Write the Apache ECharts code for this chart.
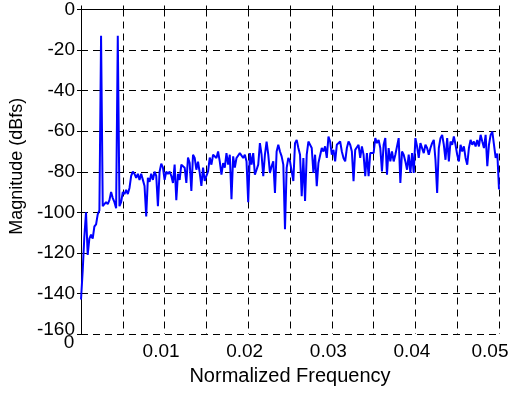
<!DOCTYPE html>
<html>
<head>
<meta charset="utf-8">
<script src="https://cdn.jsdelivr.net/npm/echarts@6.0.0/dist/echarts.min.js"></script>
<style>
  html, body { margin: 0; padding: 0; background: #ffffff; }
  #chart { width: 518px; height: 394px; }
</style>
</head>
<body>
<div id="chart"></div>
<script>
// spectrum bins, normalized frequency step
const binWidth = 0.0002;

// magnitude in dBfs, one value per bin (0 .. 0.05)
const magnitude = [
  -143, -129, -112, -100, -121, -113, -111, -113, -107, -106,
  -101, -99, -13, -97, -96, -95, -96, -94, -90, -93,
  -95, -98, -13, -97, -95, -90, -91, -89, -91, -88,
  -82, -80, -81, -83, -81, -84, -81, -84, -87, -102,
  -83, -85, -81, -84, -80, -82, -97, -80, -76, -78,
  -84, -80, -81, -80, -82, -85.5, -76.5, -94, -81, -84,
  -76.5, -75.7, -78, -85.5, -73, -75.7, -89.5, -71.6, -73.2, -79,
  -75, -80.5, -87, -78, -84.5, -82, -79.8, -73, -76.5, -71.6,
  -72.4, -73.2, -70, -75, -81.4, -75.7, -78, -70.8, -76.5, -71.6,
  -93.6, -72.4, -78, -73.2, -74, -70.8, -71.6, -73.2, -71.6, -75,
  -95, -70.8, -76.5, -70.8, -81.4, -79, -76.5, -65.9, -71.6, -82.2,
  -71.6, -65.1, -71.6, -80.6, -77.3, -74.9, -90.4, -70, -66.7, -70,
  -72.4, -76.5, -108.3, -78.1, -73.2, -74.9, -75.7, -84.6, -65.9, -64.3,
  -68.3, -71.6, -92, -73.2, -94.4, -71.6, -65.1, -65.1, -68.3, -80.6,
  -71.6, -87.1, -75.7, -76.5, -68.3, -70, -67.5, -73.2, -62.6, -65.1,
  -71.6, -69.2, -74.9, -66.7, -65.9, -65.1, -70, -73.2, -74.9, -68.3,
  -65.1, -66.7, -70, -84.6, -69.2, -70, -66.7, -73.2, -67.5, -71.6,
  -82.2, -70.8, -82.2, -70.8, -70.8, -70.8, -63.4, -65.9, -64.3, -68.3,
  -79.8, -66.7, -63.4, -81.4, -68.3, -74.9, -70, -74.9, -71.6, -67.5,
  -63.4, -85.5, -70, -71.6, -74.9, -79, -71.6, -80.6, -70.8, -80.6,
  -63.4, -67.5, -73.2, -65.9, -65.1, -70.8, -66.7, -68.3, -71.6, -68.3,
  -65.9, -64.3, -74.1, -90.4, -68.3, -63.4, -61.8, -66.7, -74.1, -63.4,
  -74.9, -65.1, -66.7, -62.6, -66.7, -71.6, -74.9, -66.7, -70, -67.5,
  -73.2, -76.5, -68.3, -64.3, -66.7, -65.1, -67.5, -64.3, -67.5, -61.8,
  -65.1, -68.3, -61.8, -77.3, -66.7, -61.8, -60.2, -61, -73.2, -71,
  -88.7
];

const xTickLabels = ['0', '0.01', '0.02', '0.03', '0.04', '0.05'];

const FONT = 'Liberation Sans, Arial, Helvetica, sans-serif';
const lbl = { fontFamily: FONT, fontSize: 19, color: '#000' };

const chartDom = document.getElementById('chart');
const myChart = echarts.init(chartDom, null, { renderer: 'canvas' });

const gridLine = { show: true, lineStyle: { color: '#000', width: 1, type: [7, 5] } };
const boxLine = { show: true, lineStyle: { color: '#000', width: 1 } };
const innerTick = { show: true, inside: true, length: 4, lineStyle: { color: '#000' } };

const option = {
  animation: false,
  backgroundColor: '#ffffff',
  grid: { left: 81, right: 19, top: 7, bottom: 60 },
  xAxis: [
    {
      type: 'value',
      min: 0,
      max: 0.05,
      interval: 0.005,
      name: 'Normalized Frequency',
      nameLocation: 'middle',
      nameGap: 31,
      nameTextStyle: { fontFamily: FONT, fontSize: 20, color: '#000' },
      axisLine: boxLine,
      axisTick: innerTick,
      splitLine: gridLine,
      axisLabel: {
        margin: 18,
        verticalAlign: 'middle',
        fontFamily: FONT,
        fontSize: 19,
        color: '#000',
        formatter: (v) => {
          const k = Math.round(v / 0.005);
          if (k % 2) return '';
          const idx = k / 2;
          const t = xTickLabels[idx];
          if (idx === 0) return '{z|' + t + '}';
          if (idx === xTickLabels.length - 1) return '{e|' + t + '}';
          return '{n|' + t + '}';
        },
        rich: {
          n: Object.assign({ padding: [0, 7, 0, 0] }, lbl),
          z: Object.assign({ padding: [0, 24, 18, 0] }, lbl),
          e: Object.assign({ padding: [0, 18, 0, 0] }, lbl)
        }
      }
    },
    {
      type: 'value',
      position: 'top',
      min: 0,
      max: 0.05,
      interval: 0.005,
      axisLine: boxLine,
      axisTick: innerTick,
      axisLabel: { show: false },
      splitLine: { show: false }
    }
  ],
  yAxis: [
    {
      type: 'value',
      min: -160,
      max: 0,
      interval: 20,
      name: 'Magnitude (dBfs)',
      nameLocation: 'middle',
      nameGap: 54,
      nameTextStyle: { fontFamily: FONT, fontSize: 18, color: '#000', padding: [0, 0, 0, 11] },
      axisLine: boxLine,
      axisTick: innerTick,
      splitLine: gridLine,
      axisLabel: {
        margin: 6,
        fontFamily: FONT,
        fontSize: 19,
        color: '#000',
        formatter: (v) => (v === -160 ? '{b|' + v + '}' : '{a|' + v + '}'),
        rich: {
          a: Object.assign({}, lbl),
          b: Object.assign({ padding: [0, 0, 8, 0] }, lbl)
        }
      }
    },
    {
      type: 'value',
      position: 'right',
      min: -160,
      max: 0,
      interval: 20,
      axisLine: boxLine,
      axisTick: innerTick,
      axisLabel: { show: false },
      splitLine: { show: false }
    }
  ],
  series: [
    {
      name: 'dBfs',
      type: 'line',
      xAxisIndex: 0,
      yAxisIndex: 0,
      showSymbol: false,
      symbol: 'none',
      color: '#0000ff',
      lineStyle: { width: 2, color: '#0000ff' },
      data: magnitude.map((m, i) => [i * binWidth, m])
    }
  ]
};

myChart.setOption(option);
</script>
</body>
</html>
